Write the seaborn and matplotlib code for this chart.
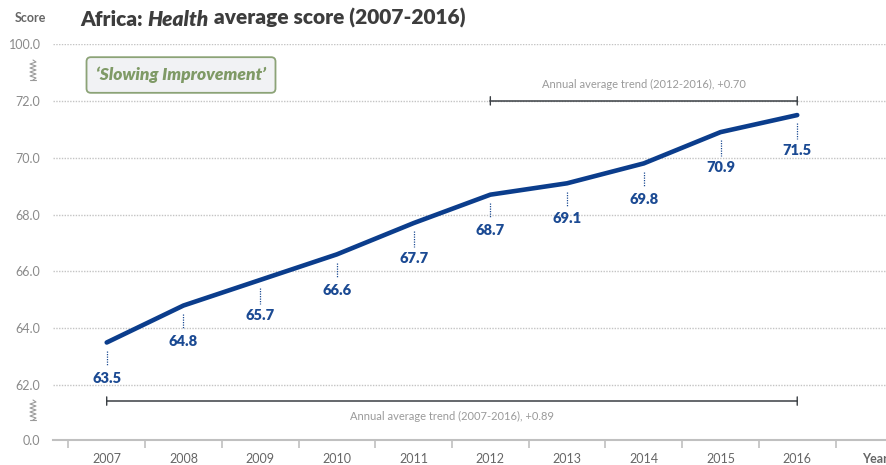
import numpy as np
import pandas as pd
import matplotlib
matplotlib.use("Agg")
import matplotlib.pyplot as plt
from matplotlib.lines import Line2D
from matplotlib.transforms import offset_copy
import seaborn as sns

# --- data -------------------------------------------------------------
years = [2007, 2008, 2009, 2010, 2011, 2012, 2013, 2014, 2015, 2016]
scores = [63.5, 64.8, 65.7, 66.6, 67.7, 68.7, 69.1, 69.8, 70.9, 71.5]
ytick_values = [0.0, 62.0, 64.0, 66.0, 68.0, 70.0, 72.0, 100.0]
trend_long = ("Annual average trend (2007-2016), +0.89", 2007, 2016)
trend_short = ("Annual average trend (2012-2016), +0.70", 2012, 2016)
badge_text = "\u2018Slowing Improvement\u2019"

sns.set_theme(style="white")
plt.rcParams["font.family"] = ["Lato", "DejaVu Sans"]

BLUE = "#0b3d8c"
LABEL_BLUE = "#1b4a93"
GRAY_TXT = "#8a8a8a"
DARK = "#3d3d3d"

# broken y axis: 0-62 and 72-100 are compressed, 62-72 is linear
_src = np.array([-1000.0, 0.0, 62.0, 72.0, 100.0, 1000.0])
_dst = np.array([60.07 - 1000 * 1.93 / 62, 60.07, 62.0, 72.0, 74.0, 74.0 + 900 * 2 / 28])


def fwd(v):
    return np.interp(v, _src, _dst)


def inv(p):
    return np.interp(p, _dst, _src)


fig = plt.figure(figsize=(8.87, 4.65), dpi=100)
ax = fig.add_axes([53 / 887, 25 / 465, 1 - 53 / 887, (440 - 44) / 465])

df = pd.DataFrame({"year": years, "score": scores})
sns.lineplot(data=df, x="year", y="score", ax=ax, color=BLUE, linewidth=3.3,
             solid_capstyle="round", zorder=5)

ax.set_yscale("function", functions=(fwd, inv))
ax.set_ylim(0, 100)
ax.set_xlim(2006.30, 2017.17)

# dotted grid lines at every tick except the baseline
for v in ytick_values[1:]:
    ax.axhline(v, color="#c4c4c4", linestyle=(0, (1, 1)), linewidth=1.0, zorder=1)

ax.set_yticks(ytick_values)
ax.set_yticklabels([f"{v:.1f}" for v in ytick_values])
ax.tick_params(axis="y", length=0, pad=9, labelsize=9, labelcolor=GRAY_TXT)

ax.set_xticks(years)
ax.set_xticklabels([str(y) for y in years])
ax.set_xticks([y + 0.5 for y in [2006] + years], minor=True)
ax.tick_params(axis="x", which="major", length=0, pad=9, labelsize=9, labelcolor="#666666")
ax.tick_params(axis="x", which="minor", length=6, width=1.2, color="#c0c0c0",
               direction="out", bottom=True)
ax.set_xlabel("")
ax.set_ylabel("")

for s in ["top", "right", "left"]:
    ax.spines[s].set_visible(False)
ax.spines["bottom"].set_color("#c0c0c0")
ax.spines["bottom"].set_linewidth(1.5)

# value labels with dotted leaders below each point
for x, y in zip(years, scores):
    t1 = offset_copy(ax.transData, fig=fig, x=0, y=-6, units="points")
    t2 = offset_copy(ax.transData, fig=fig, x=0, y=-17, units="points")
    p1 = t1.transform((x, y))
    p2 = t2.transform((x, y))
    fig.add_artist(Line2D([p1[0], p2[0]], [p1[1], p2[1]], transform=None, color=LABEL_BLUE,
                          linestyle=(0, (1, 1)), linewidth=0.9))
    ax.annotate(f"{y:.1f}", xy=(x, y), xytext=(0, -21), textcoords="offset points",
                ha="center", va="top", fontsize=10.5, fontweight="heavy", color=LABEL_BLUE)


# trend brackets
def bracket(label, x0, x1, yval, text_above):
    ax.plot([x0, x1], [yval, yval], color="#3a3f44", linewidth=1.1, zorder=4)
    for xe in (x0, x1):
        for d in (3, -3):
            ax.annotate("", xy=(xe, yval), xytext=(0, d), textcoords="offset points",
                        arrowprops=dict(arrowstyle="-", color="#3a3f44", lw=1.0,
                                        shrinkA=0, shrinkB=0))
    dy = 12 if text_above else -11
    ax.annotate(label, xy=((x0 + x1) / 2, yval), xytext=(0, dy), textcoords="offset points",
                ha="center", va="center", fontsize=8, color="#9a9a9a")


bracket(trend_long[0], trend_long[1], trend_long[2], 44.0, False)
bracket(trend_short[0], trend_short[1], trend_short[2], 72.0, True)


# axis break marks
def squiggle(yc_px):
    ys = np.linspace(yc_px + 10, yc_px - 10, 11)
    xs = np.array([33 + (3 if i % 2 else -3) for i in range(11)], dtype=float)
    xs[0] = xs[-1] = 33
    fig.add_artist(Line2D(xs / 887, 1 - ys / 465, transform=fig.transFigure,
                          color="#9a9a9a", linewidth=0.8))
    fig.add_artist(Line2D([30 / 887, 36 / 887], [1 - (yc_px + 10) / 465] * 2,
                          transform=fig.transFigure, color="#9a9a9a", linewidth=0.8))


squiggle(70)
squiggle(410)

# badge
fig.text(181 / 887, 1 - 75 / 465, badge_text, ha="center", va="center", fontsize=12.5,
         fontweight="heavy", fontstyle="italic", color="#7f9a66",
         bbox=dict(boxstyle="round,pad=0.55,rounding_size=0.25", facecolor="#f1f2f4",
                   edgecolor="#8ca377", linewidth=1.3))

# title with one italic word
t1 = fig.text(80 / 887, 1 - 19 / 465, "Africa: ", ha="left", va="center", fontsize=15,
              fontweight="heavy", color=DARK)
fig.canvas.draw()
r = fig.canvas.get_renderer()
bb = t1.get_window_extent(r)
base_y = bb.y0 / fig.bbox.height
t1.set_va("bottom")
t1.set_position((80 / 887, base_y))
t2 = fig.text(bb.x1 / fig.bbox.width, base_y, "Health", fontsize=15, fontweight="heavy",
              fontstyle="italic", color=DARK, ha="left", va="bottom")
fig.canvas.draw()
bb2 = t2.get_window_extent(r)
fig.text(bb2.x1 / fig.bbox.width, base_y, " average score (2007-2016)",
         ha="left", va="bottom", fontsize=15, fontweight="heavy", color=DARK)

fig.text(30 / 887, 1 - 18 / 465, "Score", ha="center", va="center", fontsize=9,
         fontweight="bold", color="#666666")
ax.annotate("Year", xy=(2016.85, 0), xycoords="data", xytext=(0, -9), textcoords="offset points",
            ha="left", va="top", fontsize=9, fontweight="bold", color="#666666",
            annotation_clip=False)

fig.savefig("out.png", dpi=100)
